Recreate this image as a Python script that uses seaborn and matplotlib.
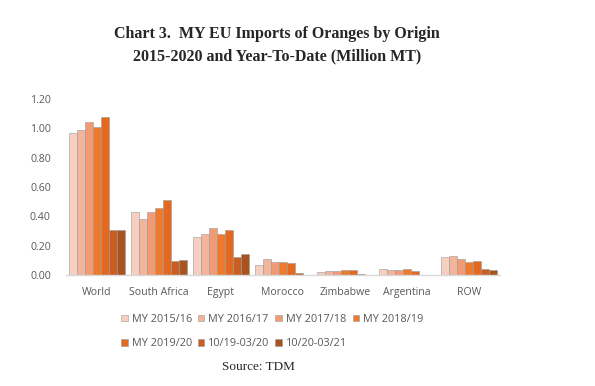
import pandas as pd
import numpy as np
import seaborn as sns
import matplotlib.pyplot as plt

# Values (million MT)
origins = ['World', 'South Africa', 'Egypt', 'Morocco', 'Zimbabwe', 'Argentina', 'ROW']
periods = ['MY 2015/16', 'MY 2016/17', 'MY 2017/18', 'MY 2018/19',
           'MY 2019/20', '10/19-03/20', '10/20-03/21']

my_2015 = [0.97, 0.43, 0.26, 0.07, 0.02, 0.04, 0.12]
my_2016 = [0.99, 0.38, 0.28, 0.11, 0.03, 0.035, 0.13]
my_2017 = [1.04, 0.43, 0.32, 0.09, 0.03, 0.035, 0.11]
my_2018 = [1.01, 0.46, 0.28, 0.09, 0.035, 0.04, 0.09]
my_2019 = [1.08, 0.51, 0.31, 0.08, 0.035, 0.027, 0.095]
ytd_2019 = [0.31, 0.095, 0.12, 0.014, 0.007, 0.0, 0.04]
ytd_2020 = [0.31, 0.10, 0.145, 0.0, 0.0, 0.0, 0.035]

yticks = [0.0, 0.2, 0.4, 0.6, 0.8, 1.0, 1.2]

series = [my_2015, my_2016, my_2017, my_2018, my_2019, ytd_2019, ytd_2020]
rows = []
for p, vals in zip(periods, series):
    for o, v in zip(origins, vals):
        rows.append([o, p, v])
df = pd.DataFrame(rows, columns=['Origin', 'Period', 'Value'])

cpalette = ["#f6cfc0", "#f3b49c", "#f19a73", "#ee7a2e", "#e2691f", "#c95d22", "#a9531f"]

sns.set_style("white")
plt.rcParams['font.family'] = ['Open Sans', 'DejaVu Sans']

fig = plt.figure(figsize=(5.95, 3.86), dpi=100)
ax = fig.add_axes([0.111, 0.2876, 0.729, 0.456])

sns.barplot(data=df, x='Origin', y='Value', hue='Period', hue_order=periods,
            order=origins, palette=cpalette, width=0.9, ax=ax,
            edgecolor='#9a9a9a', linewidth=0.4, saturation=1, errorbar=None)

ax.set_ylim(0, 1.2)
ax.set_yticks(yticks)
ax.set_yticklabels(['%.2f' % t for t in yticks])
ax.set_xlabel('')
ax.set_ylabel('')
ax.tick_params(axis='both', length=0, labelsize=7.6, labelcolor='#595959')
ax.tick_params(axis='y', pad=11)
ax.tick_params(axis='x', pad=9)
for s in ['top', 'right', 'left']:
    ax.spines[s].set_visible(False)
ax.spines['bottom'].set_color('#d9d9d9')
ax.spines['bottom'].set_linewidth(1)

# legend: 4 per row, row order
handles, labels = ax.get_legend_handles_labels()
order = [0, 4, 1, 5, 2, 6, 3]
leg = ax.legend([handles[i] for i in order], [labels[i] for i in order],
                ncol=4, loc='upper left', bbox_to_anchor=(0.105, -0.165),
                frameon=False, fontsize=7.8, handlelength=0.6, handleheight=0.6,
                handletextpad=0.35, columnspacing=0.55, labelspacing=1.25)
for t in leg.get_texts():
    t.set_color('#595959')

fig.text(0.466, 0.912, 'Chart 3.  MY EU Imports of Oranges by Origin',
         ha='center', va='center', fontsize=11.5, fontweight='bold',
         family='Liberation Serif')
fig.text(0.466, 0.855, '2015-2020 and Year-To-Date (Million MT)',
         ha='center', va='center', fontsize=11.5, fontweight='bold',
         family='Liberation Serif')
fig.text(0.434, 0.048, 'Source: TDM', ha='center', va='center',
         fontsize=9.5, family='Liberation Serif')

plt.savefig('out.png', dpi=100)
plt.close('all')
